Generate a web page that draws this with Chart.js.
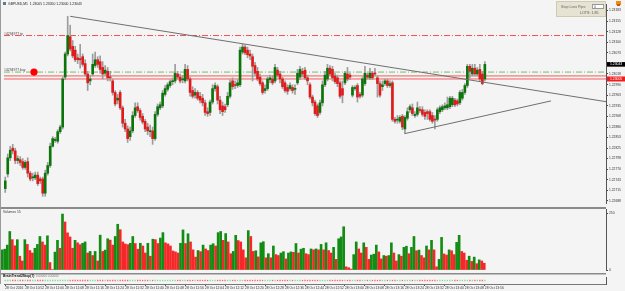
<!DOCTYPE html>
<html>
<head>
<meta charset="utf-8">
<script src="https://cdn.jsdelivr.net/npm/chart.js@4.4.1/dist/chart.umd.min.js"></script>
<style>
  html, body { margin: 0; padding: 0; background: #f4f4f4; }
  #wrap { position: relative; width: 625px; height: 291px; overflow: hidden; background: #f4f4f4; }
  canvas { position: absolute; left: 0; }
</style>
</head>
<body>
<div id="wrap">
  <canvas id="priceChart" width="625" height="207" style="top:0"></canvas>
  <canvas id="volChart" width="625" height="66" style="top:207px"></canvas>
  <canvas id="stripChart" width="625" height="18" style="top:273px"></canvas>
</div>
<script>
// GBPUSD M1 candles
const opens = [1.22720,1.22758,1.22800,1.22825,1.22818,1.22793,1.22795,1.22790,1.22775,1.22790,
  1.22760,1.22748,1.22748,1.22755,1.22745,1.22745,1.22708,1.22760,1.22780,1.22830,
  1.22845,1.22843,1.22868,1.22880,1.23010,1.23070,1.23115,1.23090,1.23080,1.23060,
  1.23058,1.23063,1.23045,1.23018,1.23000,1.23018,1.23040,1.23055,1.23050,1.23035,
  1.23020,1.23025,1.23010,1.23000,1.22970,1.22950,1.22970,1.22930,1.22890,1.22875,
  1.22855,1.22870,1.22910,1.22933,1.22923,1.22908,1.22895,1.22880,1.22868,1.22870,
  1.22850,1.22913,1.22930,1.22935,1.22965,1.22978,1.22988,1.22998,1.23000,1.23018,
  1.23010,1.23003,1.23000,1.23030,1.23005,1.22975,1.22963,1.22970,1.22960,1.22955,
  1.22943,1.22920,1.22918,1.22945,1.22980,1.22985,1.22950,1.22935,1.22933,1.22938,
  1.22960,1.23000,1.22990,1.22988,1.22990,1.23075,1.23088,1.23080,1.23070,1.23063,
  1.23040,1.23025,1.23010,1.22995,1.22975,1.22980,1.23003,1.23005,1.23000,1.23028,
  1.23018,1.23005,1.22995,1.22983,1.22980,1.22983,1.22978,1.22995,1.23010,1.23025,
  1.23028,1.23008,1.22990,1.22958,1.22945,1.22935,1.22918,1.22943,1.22990,1.23005,
  1.23033,1.23030,1.23013,1.23008,1.22995,1.22980,1.22995,1.23018,1.23015,1.22963,
  1.22980,1.22988,1.22965,1.22963,1.22993,1.23015,1.23008,1.23020,1.23020,1.23008,
  1.22993,1.22985,1.22993,1.23000,1.22988,1.22995,1.22900,1.22898,1.22895,1.22908,
  1.22875,1.22903,1.22925,1.22930,1.22910,1.22913,1.22925,1.22925,1.22918,1.22920,
  1.22920,1.22910,1.22900,1.22900,1.22920,1.22925,1.22930,1.22930,1.22933,1.22938,
  1.22950,1.22948,1.22943,1.22955,1.22970,1.22988,1.23038,1.23018,1.23033,1.23018,
  1.23030,1.23018,1.23005];
const highs = [1.22750,1.22810,1.22830,1.22835,1.22825,1.22805,1.22803,1.22798,1.22793,1.22800,
  1.22765,1.22760,1.22763,1.22763,1.22750,1.22750,1.22768,1.22788,1.22838,1.22855,
  1.22853,1.22873,1.22885,1.23010,1.23075,1.23168,1.23145,1.23105,1.23090,1.23070,
  1.23095,1.23070,1.23055,1.23025,1.23015,1.23070,1.23075,1.23063,1.23065,1.23050,
  1.23040,1.23035,1.23025,1.23005,1.22975,1.22965,1.22975,1.22935,1.22900,1.22883,
  1.22880,1.22920,1.22943,1.22943,1.22928,1.22915,1.22900,1.22890,1.22885,1.22880,
  1.22920,1.22940,1.22945,1.22975,1.22988,1.22995,1.23003,1.23008,1.23043,1.23025,
  1.23018,1.23013,1.23043,1.23040,1.23010,1.22985,1.22980,1.22975,1.22970,1.22965,
  1.22950,1.22930,1.22950,1.22990,1.22995,1.22990,1.22960,1.22945,1.22940,1.22970,
  1.23003,1.23008,1.23000,1.23003,1.23088,1.23095,1.23093,1.23088,1.23080,1.23070,
  1.23048,1.23035,1.23018,1.23000,1.22990,1.23010,1.23015,1.23013,1.23043,1.23035,
  1.23025,1.23010,1.23000,1.22990,1.22995,1.22990,1.22990,1.23030,1.23038,1.23033,
  1.23035,1.23015,1.22995,1.22963,1.22950,1.22940,1.22950,1.23000,1.23025,1.23043,
  1.23040,1.23038,1.23020,1.23015,1.23000,1.23000,1.23025,1.23035,1.23020,1.22988,
  1.22988,1.22993,1.22970,1.23010,1.23038,1.23020,1.23033,1.23025,1.23033,1.23013,
  1.23000,1.23000,1.23005,1.23005,1.23000,1.23000,1.22905,1.22910,1.22910,1.22913,
  1.22910,1.22930,1.22938,1.22940,1.22920,1.22945,1.22933,1.22933,1.22925,1.22925,
  1.22925,1.22918,1.22910,1.22930,1.22935,1.22938,1.22943,1.22958,1.22960,1.22960,
  1.22955,1.22953,1.22975,1.22978,1.22993,1.23043,1.23043,1.23043,1.23043,1.23035,
  1.23043,1.23025,1.23050];
const lows = [1.22710,1.22750,1.22793,1.22810,1.22785,1.22785,1.22780,1.22770,1.22770,1.22750,
  1.22740,1.22740,1.22743,1.22728,1.22733,1.22700,1.22700,1.22755,1.22775,1.22828,
  1.22840,1.22838,1.22863,1.22875,1.23003,1.23065,1.23078,1.23060,1.23050,1.23045,
  1.23033,1.23038,1.23013,1.22975,1.22990,1.23013,1.23035,1.23035,1.23020,1.23005,
  1.23015,1.23000,1.23000,1.22963,1.22935,1.22940,1.22925,1.22880,1.22868,1.22840,
  1.22845,1.22865,1.22905,1.22918,1.22898,1.22888,1.22868,1.22860,1.22855,1.22835,
  1.22845,1.22908,1.22925,1.22930,1.22960,1.22973,1.22983,1.22990,1.22995,1.23005,
  1.22995,1.22995,1.22995,1.23000,1.22960,1.22955,1.22955,1.22950,1.22943,1.22935,
  1.22910,1.22908,1.22910,1.22940,1.22973,1.22940,1.22915,1.22910,1.22918,1.22933,
  1.22955,1.22978,1.22980,1.22983,1.22985,1.23070,1.23068,1.23060,1.23055,1.23000,
  1.23013,1.23000,1.22988,1.22965,1.22968,1.22975,1.22995,1.22990,1.22995,1.23010,
  1.22995,1.22980,1.22970,1.22965,1.22975,1.22968,1.22965,1.22990,1.23003,1.23010,
  1.23003,1.22990,1.22953,1.22935,1.22910,1.22905,1.22913,1.22935,1.22985,1.23000,
  1.23013,1.23000,1.22993,1.22985,1.22955,1.22943,1.22990,1.23000,1.23003,1.22958,
  1.22975,1.22945,1.22955,1.22958,1.22988,1.23005,1.23003,1.23003,1.23013,1.22958,
  1.22958,1.22975,1.22988,1.22983,1.22983,1.22895,1.22890,1.22890,1.22890,1.22873,
  1.22863,1.22898,1.22918,1.22910,1.22905,1.22908,1.22918,1.22908,1.22900,1.22900,
  1.22895,1.22890,1.22875,1.22895,1.22915,1.22920,1.22925,1.22925,1.22928,1.22933,
  1.22933,1.22935,1.22938,1.22950,1.22965,1.22983,1.23008,1.23013,1.23013,1.23013,
  1.23000,1.22990,1.23000];
const closes = [1.22740,1.22800,1.22820,1.22818,1.22793,1.22798,1.22788,1.22775,1.22788,1.22760,
  1.22745,1.22750,1.22755,1.22733,1.22740,1.22708,1.22760,1.22780,1.22830,1.22850,
  1.22848,1.22868,1.22880,1.23005,1.23070,1.23118,1.23083,1.23065,1.23055,1.23055,
  1.23055,1.23043,1.23018,1.22995,1.23005,1.23043,1.23055,1.23043,1.23030,1.23018,
  1.23028,1.23008,1.23008,1.22970,1.22940,1.22955,1.22930,1.22890,1.22875,1.22850,
  1.22870,1.22910,1.22930,1.22923,1.22905,1.22893,1.22875,1.22870,1.22870,1.22850,
  1.22913,1.22933,1.22938,1.22968,1.22980,1.22990,1.22998,1.23000,1.23020,1.23010,
  1.23000,1.23005,1.23030,1.23005,1.22970,1.22960,1.22970,1.22955,1.22950,1.22943,
  1.22918,1.22915,1.22945,1.22980,1.22988,1.22950,1.22925,1.22920,1.22925,1.22960,
  1.22995,1.22985,1.22988,1.22995,1.23080,1.23088,1.23073,1.23068,1.23065,1.23038,
  1.23020,1.23005,1.22993,1.22970,1.22980,1.23005,1.23008,1.22995,1.23035,1.23015,
  1.23005,1.22985,1.22975,1.22973,1.22988,1.22975,1.22980,1.23020,1.23030,1.23018,
  1.23008,1.23000,1.22958,1.22943,1.22915,1.22910,1.22943,1.22990,1.23015,1.23033,
  1.23018,1.23008,1.22998,1.22993,1.22960,1.22963,1.23020,1.23005,1.23010,1.22983,
  1.22983,1.22958,1.22960,1.23005,1.23020,1.23010,1.23020,1.23008,1.23018,1.22993,
  1.22963,1.22990,1.23000,1.22988,1.22993,1.22900,1.22895,1.22900,1.22905,1.22880,
  1.22905,1.22920,1.22933,1.22915,1.22913,1.22930,1.22923,1.22913,1.22908,1.22915,
  1.22900,1.22895,1.22898,1.22925,1.22930,1.22933,1.22935,1.22938,1.22955,1.22955,
  1.22938,1.22940,1.22970,1.22970,1.22988,1.23038,1.23025,1.23033,1.23018,1.23028,
  1.23005,1.22993,1.23043];
const volumes = [89,92,110,170,134,107,134,61,40,134,
  113,86,75,96,113,148,124,110,151,33,
  2,79,131,96,247,212,164,146,96,131,
  120,112,118,124,75,82,64,82,40,154,
  82,88,138,132,110,148,202,178,124,115,
  112,118,148,117,92,118,106,75,118,61,
  136,134,117,141,165,120,115,106,84,80,
  75,118,177,117,160,124,89,57,86,81,
  110,93,86,110,116,106,165,170,131,161,
  124,72,82,153,130,124,89,54,174,148,
  82,85,58,120,125,54,72,54,106,68,
  64,75,81,49,75,80,78,117,75,92,
  96,72,68,93,89,93,89,113,89,120,
  86,75,100,47,138,146,191,14,10,4,
  68,124,93,75,120,100,47,66,70,110,
  80,49,64,61,64,120,75,40,68,61,
  100,105,72,100,148,85,88,64,54,106,
  89,131,89,14,47,144,71,66,89,85,
  68,122,153,82,75,43,61,38,57,28,
  45,40,30];

// axis labels
const timeLabels = ['28 Oct 2016','28 Oct 10:52','28 Oct 11:00','28 Oct 11:08','28 Oct 11:16',
  '28 Oct 11:24','28 Oct 11:32','28 Oct 11:40','28 Oct 11:48','28 Oct 11:56','28 Oct 12:04',
  '28 Oct 12:12','28 Oct 12:20','28 Oct 12:28','28 Oct 12:36','28 Oct 12:44','28 Oct 12:52',
  '28 Oct 13:00','28 Oct 13:08','28 Oct 13:16','28 Oct 13:24','28 Oct 13:32','28 Oct 13:40',
  '28 Oct 13:48','28 Oct 13:56'];
const priceTicks = [1.23183,1.23155,1.23128,1.23100,1.23073,1.23045,1.23018,1.22990,1.22963,1.22935,
  1.22908,1.22880,1.22853,1.22825,1.22798,1.22770,1.22743,1.22715,1.22688];
const volumeTicks = [0, 250];

// order lines and drawn objects
const tpLevel = 1.23118;
const buyLevel = 1.23023;
const stopLevels = [1.23013, 1.23005];
const upperTrendX = [26, 240.5];
const upperTrendY = [1.23168, 1.22946];
const lowerTrendX = [160, 218.5];
const lowerTrendY = [1.22863, 1.22948];
const buyDotX = 11.5;

const SLOTS_MAX = 240.5;
const BULL = '#0b750b', BEAR = '#e01b1b', WICK = '#9c9c9c';
const VOL_UP = '#128c12', VOL_DN = '#f42828';
const FONT = '"Liberation Sans", Arial, sans-serif';

Chart.defaults.font.family = FONT;
Chart.defaults.animation = false;
Chart.defaults.plugins.legend.display = false;
Chart.defaults.plugins.tooltip.enabled = false;

const last = closes.length - 1;

function xScale(show) {
  return {
    type: 'linear', min: -0.5, max: SLOTS_MAX, offset: false,
    display: show,
    grid: { display: show, drawOnChartArea: false, offset: false, tickLength: 2, color: '#555' },
    border: { color: '#777' },
    ticks: {
      autoSkip: false, maxRotation: 0, align: 'start', padding: 0,
      font: { size: 3.3 }, color: '#333',
      callback: (v, i) => timeLabels[i]
    },
    afterBuildTicks: s => { s.ticks = timeLabels.map((_, k) => ({ value: k * 8 })); },
    afterFit: s => { if (show) s.height = 7; }
  };
}

function rightAxis(min, max, ticks, fmt, showLabels) {
  return {
    position: 'right', min, max,
    grid: { drawOnChartArea: false, tickLength: 2, color: '#444' },
    border: { color: '#555', width: 1 },
    ticks: {
      display: showLabels, padding: 1, font: { size: 3.3 }, color: '#333',
      callback: v => fmt(v)
    },
    afterBuildTicks: s => { s.ticks = ticks.map(v => ({ value: v })); },
    afterFit: s => { s.width = 19; }
  };
}

function lineSet(xs, ys, color, dash, order) {
  return {
    type: 'line', data: xs.map((x, i) => ({ x, y: ys[i] })),
    borderColor: color, borderWidth: 1, borderDash: dash,
    pointRadius: 0, order
  };
}

// price panel decorations
const priceChrome = {
  id: 'priceChrome',
  afterDraw(chart) {
    const { ctx } = chart;
    const y = chart.scales.y;
    ctx.save();
    ctx.textBaseline = 'middle';
    ctx.font = '3.4px ' + FONT;
    // symbol header
    ctx.fillStyle = '#5a7a9a';
    ctx.fillRect(3, 2, 3, 3);
    ctx.fillStyle = '#222';
    ctx.fillText('GBPUSD,M1  ' + [opens[last], highs[last], lows[last], closes[last]].map(v => v.toFixed(5)).join(' '), 8, 3.6);
    // order line labels
    ctx.fillStyle = '#444';
    ctx.fillText('#4294977 tp', 4, y.getPixelForValue(tpLevel) - 1.8);
    ctx.fillText('#4294977 buy', 4, y.getPixelForValue(buyLevel) - 1.6);
    // price boxes on the axis
    const yb = y.getPixelForValue(closes[last]);
    ctx.fillStyle = '#000';
    ctx.fillRect(607, yb - 2.3, 18, 4.6);
    ctx.fillStyle = '#fff';
    ctx.fillText(closes[last].toFixed(5), 610, yb);
    const yr = y.getPixelForValue(stopLevels[1]);
    ctx.fillStyle = '#f31c1c';
    ctx.fillRect(607, yr - 2.5, 18, 5);
    ctx.fillStyle = '#fff';
    ctx.fillText(stopLevels[1].toFixed(5), 610, yr);
    // stop loss panel
    ctx.fillStyle = '#e6e3d2';
    ctx.fillRect(556, 1, 50, 16);
    ctx.strokeStyle = '#cfcab2';
    ctx.strokeRect(556.5, 1.5, 49, 15);
    ctx.fillStyle = '#666';
    ctx.font = '3.6px ' + FONT;
    ctx.fillText('Stop Loss Pips:', 561, 6.5);
    ctx.fillStyle = '#fff';
    ctx.fillRect(592, 4, 12, 5);
    ctx.strokeStyle = '#999';
    ctx.strokeRect(592.5, 4.5, 11, 4);
    ctx.fillStyle = '#555';
    ctx.fillText('0', 594, 6.6);
    ctx.fillText('LOTS: 1.85', 580, 13);
    // lock icon
    ctx.fillStyle = '#f08a1c';
    ctx.fillRect(616, 1, 5, 4);
    ctx.fillStyle = '#c85a00';
    ctx.fillRect(617, 4, 3, 2);
    // left frame
    ctx.fillStyle = '#9a9a9a';
    ctx.fillRect(0, 0, 1, chart.height);
    ctx.restore();
  }
};

const volChrome = {
  id: 'volChrome',
  afterDraw(chart) {
    const { ctx } = chart;
    ctx.save();
    ctx.fillStyle = '#8a8a8a';
    ctx.fillRect(0, 0, 606, 2);
    ctx.fillStyle = '#9a9a9a';
    ctx.fillRect(0, 0, 1, chart.height);
    ctx.font = '3.4px ' + FONT;
    ctx.textBaseline = 'middle';
    ctx.fillStyle = '#333';
    ctx.fillText('Volumes 15', 3, 5.5);
    ctx.restore();
  }
};

const stripChrome = {
  id: 'stripChrome',
  afterDraw(chart) {
    const { ctx } = chart;
    ctx.save();
    ctx.fillStyle = '#8a8a8a';
    ctx.fillRect(0, 0, 606, 1.5);
    ctx.fillStyle = '#9a9a9a';
    ctx.fillRect(0, 0, 1, 11);
    ctx.font = 'bold 3.4px ' + FONT;
    ctx.textBaseline = 'middle';
    ctx.fillStyle = '#111';
    ctx.fillText('BrainTrend2Stop(7)', 3, 3.5);
    ctx.font = '3px ' + FONT;
    ctx.fillStyle = '#777';
    ctx.fillText('0.00000 0.00000', 36, 3.5);
    ctx.restore();
  }
};

// price chart
new Chart(document.getElementById('priceChart'), {
  type: 'bar',
  data: {
    datasets: [
      {
        data: opens.map((o, i) => ({ x: i, y: [o, closes[i]] })),
        backgroundColor: opens.map((o, i) => closes[i] >= o ? BULL : BEAR),
        barThickness: 2, minBarLength: 1, grouped: false, order: 1
      },
      {
        data: lows.map((l, i) => ({ x: i, y: [l, highs[i]] })),
        backgroundColor: WICK, barThickness: 1, grouped: false, order: 2
      },
      lineSet([-0.5, SLOTS_MAX], [tpLevel, tpLevel], '#f25050', [6, 2, 1, 2], 6),
      lineSet([-0.5, SLOTS_MAX], [buyLevel, buyLevel], '#6cc46c', [6, 2, 1, 2], 6),
      lineSet([-0.5, SLOTS_MAX], [stopLevels[0], stopLevels[0]], '#f45c5c', [], 6),
      lineSet([-0.5, SLOTS_MAX], [stopLevels[1], stopLevels[1]], '#f45c5c', [], 6),
      lineSet(upperTrendX, upperTrendY, '#6f6f6f', [], 0),
      lineSet(lowerTrendX, lowerTrendY, '#6f6f6f', [], 0),
      {
        type: 'scatter', data: [{ x: buyDotX, y: buyLevel }],
        pointRadius: 3.6, pointBackgroundColor: '#ff0000', pointBorderWidth: 0, order: 0
      }
    ]
  },
  options: {
    responsive: false, devicePixelRatio: 1, events: [],
    layout: { padding: { left: 1, right: 0, top: 0, bottom: 0 } },
    scales: {
      x: xScale(false),
      y: rightAxis(1.226825, 1.2320, priceTicks, v => v.toFixed(5), true)
    }
  },
  plugins: [priceChrome]
});

// volume chart
new Chart(document.getElementById('volChart'), {
  type: 'bar',
  data: {
    datasets: [{
      data: volumes.map((v, i) => ({ x: i, y: v })),
      backgroundColor: volumes.map((v, i) => (i === 0 || v > volumes[i - 1]) ? VOL_UP : VOL_DN),
      barThickness: 2, grouped: false
    }]
  },
  options: {
    responsive: false, devicePixelRatio: 1, events: [],
    layout: { padding: { left: 1, right: 0, top: 2, bottom: 1 } },
    scales: {
      x: xScale(false),
      y: rightAxis(0, 265, volumeTicks, v => String(v), true)
    }
  },
  plugins: [volChrome]
});

// signal strip + time axis
new Chart(document.getElementById('stripChart'), {
  type: 'scatter',
  data: {
    datasets: [{
      data: closes.map((c, i) => ({ x: i, y: 0.5 })),
      pointStyle: 'rect', pointRadius: 0.9, pointBorderWidth: 0,
      pointBackgroundColor: closes.map((c, i) => c >= opens[i] ? '#7fdc7f' : '#ff5c5c')
    }]
  },
  options: {
    responsive: false, devicePixelRatio: 1, events: [],
    layout: { padding: { left: 1, right: 0, top: 1, bottom: 0 } },
    scales: {
      x: xScale(true),
      y: rightAxis(-0.5, 1.5, [], v => '', false)
    }
  },
  plugins: [stripChrome]
});
</script>
</body>
</html>
